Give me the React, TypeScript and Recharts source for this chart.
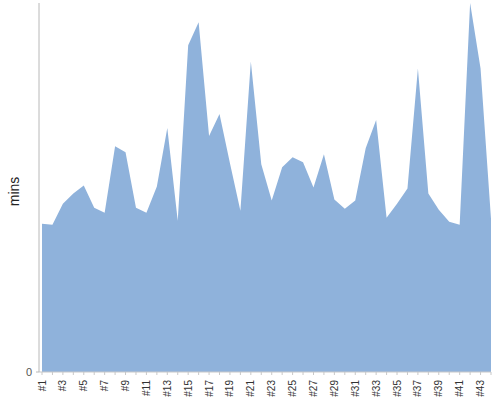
import { Area, AreaChart, XAxis, YAxis } from "recharts";

const RUNS = Array.from({ length: 44 }, (_, i) => `#${i + 1}`);
const MINUTES = [
  147, 146, 167, 177, 185, 163, 158, 224, 218, 163,
  158, 184, 242, 150, 324, 347, 234, 256, 207, 160,
  308, 206, 170, 203, 213, 208, 183, 216, 171, 162,
  170, 222, 250, 153, 167, 182, 301, 177, 161, 149,
  146, 366, 301, 152,
];
const Y_TICKS = [0];

const data = RUNS.map((run, i) => ({ run, mins: MINUTES[i] }));

const FONT = "'Liberation Sans', Arial, sans-serif";

function RunTick({ x, y, payload, index }: any) {
  if (index % 2 !== 0) return null;
  return (
    <g transform={`translate(${x},${y})`}>
      <text
        x={0}
        y={0}
        dy="0.35em"
        textAnchor="end"
        transform="rotate(-90)"
        fontSize={10}
        fontFamily={FONT}
        fill="#333"
      >
        {payload.value}
      </text>
    </g>
  );
}

function MinsLabel({ viewBox }: any) {
  const cx = 14;
  const cy = viewBox.y + viewBox.height / 2 + 4;
  return (
    <text
      x={cx}
      y={cy}
      transform={`rotate(-90 ${cx} ${cy})`}
      textAnchor="middle"
      dominantBaseline="central"
      fontSize={14}
      fontFamily={FONT}
      fill="#222"
    >
      mins
    </text>
  );
}

export default function App() {
  return (
    <div style={{ position: "absolute", left: 0, top: 0, background: "#fff" }}>
      <AreaChart width={500} height={400} data={data} margin={{ top: 3, right: 9, left: 0, bottom: 0 }}>
        <XAxis
          dataKey="run"
          interval={0}
          height={28}
          padding={{ left: 3, right: 0 }}
          tickSize={3}
          tickMargin={5}
          stroke="#c8c8c8"
          tick={<RunTick />}
        />
        <YAxis
          width={39}
          domain={[0, "dataMax"]}
          ticks={Y_TICKS}
          tickSize={3}
          tickMargin={4}
          stroke="#b8b8b8"
          tick={{ fontSize: 11, fontFamily: FONT, fill: "#555" }}
          label={<MinsLabel />}
        />
        <Area
          type="linear"
          dataKey="mins"
          stroke="none"
          fill="#8fb2db"
          fillOpacity={1}
          isAnimationActive={false}
        />
      </AreaChart>
    </div>
  );
}
